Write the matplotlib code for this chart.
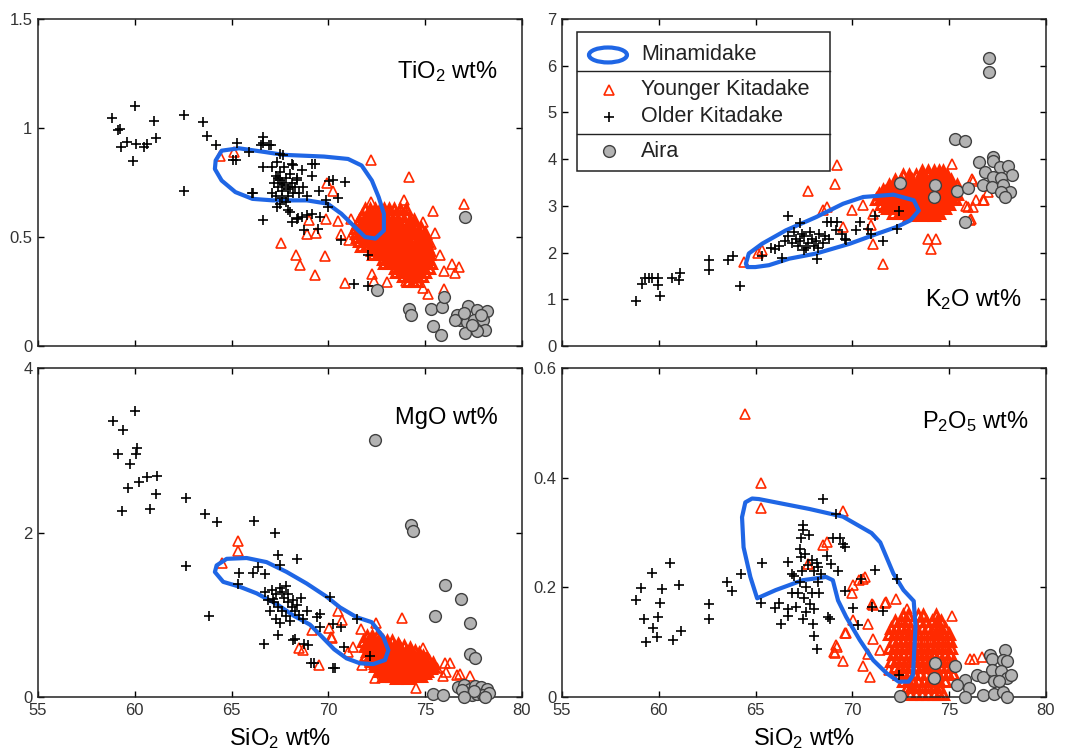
import matplotlib
matplotlib.use('Agg')
import matplotlib.pyplot as plt
from matplotlib.patches import Rectangle, Ellipse
from matplotlib.ticker import FuncFormatter

# ---------------- TiO2 panel ----------------
tio2_mina = [(64.18, 0.851), (64.49, 0.896), (65.38, 0.907), (66.79, 0.889), (67.67, 0.877),
             (69.78, 0.869), (71.02, 0.858), (71.72, 0.828), (72.25, 0.759), (72.6, 0.683),
             (72.87, 0.607), (72.87, 0.53), (72.43, 0.493), (71.9, 0.50), (71.37, 0.546),
             (70.67, 0.607), (69.96, 0.653), (68.9, 0.668), (67.14, 0.668), (66.08, 0.675),
             (65.2, 0.706), (64.49, 0.759), (64.14, 0.812)]
tio2_older = [(60.0, 1.10), (58.8, 1.046), (59.15, 0.99), (59.24, 0.997), (61.0, 1.03), (59.6, 0.937),
              (60.06, 0.927), (59.3, 0.915), (60.65, 0.927), (61.1, 0.954), (59.9, 0.85), (60.5, 0.915),
              (62.56, 1.061), (62.56, 0.71), (63.54, 1.026), (63.75, 0.962), (64.19, 0.922), (65.28, 0.933),
              (65.23, 0.854), (66.6, 0.957), (66.64, 0.93), (67.03, 0.922), (67.64, 0.878), (66.09, 0.701),
              (66.6, 0.579), (68.2, 0.832), (68.65, 0.808), (69.3, 0.835), (69.14, 0.782), (69.5, 0.713),
              (68.88, 0.69), (70.25, 0.762), (68.0, 0.614), (68.45, 0.588), (68.88, 0.599), (69.14, 0.607),
              (69.57, 0.591), (70.0, 0.637), (67.33, 0.637), (67.5, 0.653), (69.48, 0.538), (67.07, 0.82),
              (66.64, 0.82), (67.33, 0.843), (68.7, 0.728), (70.67, 0.488), (72.04, 0.416), (71.34, 0.284),
              (70.05, 0.755), (70.84, 0.751), (70.5, 0.678), (69.87, 0.668), (69.17, 0.835), (68.1, 0.57),
              (68.37, 0.584), (68.64, 0.594), (67.93, 0.622), (67.5, 0.88), (68.1, 0.835), (68.4, 0.77),
              (68.5, 0.70), (66.08, 0.70), (65.9, 0.89), (65.1, 0.854), (66.5, 0.92), (66.93, 0.92),
              (72.07, 0.274), (68.73, 0.53),
              (67.3, 0.78), (67.5, 0.76), (67.7, 0.74), (67.9, 0.72), (68.1, 0.75), (67.6, 0.71),
              (67.4, 0.73), (67.8, 0.77), (68.0, 0.79), (67.2, 0.75), (68.3, 0.73), (67.6, 0.68),
              (67.9, 0.69), (68.2, 0.70), (67.5, 0.80), (67.7, 0.82), (67.1, 0.70), (68.4, 0.76),
              (67.3, 0.69), (67.8, 0.66), (68.0, 0.73), (67.6, 0.75), (67.4, 0.77)]
tio2_younger = [(65.11, 0.888), (64.4, 0.873), (72.2, 0.854), (74.19, 0.777), (77.0, 0.652), (73.93, 0.671),
                (72.2, 0.66), (69.93, 0.747), (70.23, 0.713), (67.53, 0.472), (68.34, 0.416), (68.52, 0.37),
                (69.29, 0.328), (69.82, 0.411), (68.99, 0.579), (68.9, 0.512), (69.34, 0.518), (69.87, 0.584),
                (70.5, 0.573), (70.88, 0.29), (70.67, 0.515), (71.19, 0.584), (71.07, 0.485), (72.25, 0.332),
                (72.34, 0.30), (73.05, 0.294), (74.0, 0.30), (74.9, 0.57), (75.78, 0.416), (76.4, 0.378),
                (76.75, 0.363), (75.96, 0.344), (75.96, 0.26), (74.9, 0.264), (75.16, 0.24), (76.55, 0.335),
                (75.4, 0.62), (75.5, 0.52), (75.3, 0.47)]
# dense Younger Kitadake cloud, read row by row: (TiO2, [SiO2 ...])
tio2_cloud = [(0.63, [71.9, 72.15, 72.4, 72.65, 72.9, 73.15, 73.4, 73.7, 74.0]),
              (0.60, [71.75, 72.0, 72.15, 72.4, 72.65, 72.9, 73.15, 73.45, 73.7, 74.0]),
              (0.58, [71.6, 71.85, 72.1, 72.35, 72.6, 72.85, 73.1, 73.35, 73.6, 73.9, 74.2, 74.45]),
              (0.56, [71.5, 71.75, 72.05, 72.35, 72.6, 72.85, 73.1, 73.35, 73.65, 73.9, 74.15, 74.45]),
              (0.54, [71.4, 71.65, 71.9, 72.1, 72.3, 72.55, 72.8, 73.05, 73.3, 73.55, 73.8, 74.05, 74.3, 74.55, 74.8]),
              (0.52, [71.45, 71.7, 71.95, 72.2, 72.45, 72.7, 72.95, 73.2, 73.5, 73.75, 74.0, 74.25, 74.5, 74.75, 75.0]),
              (0.50, [71.5, 71.75, 72.0, 72.25, 72.5, 72.75, 73.0, 73.25, 73.5, 73.75, 74.0, 74.25, 74.5, 74.75, 75.0]),
              (0.48, [71.6, 71.85, 72.1, 72.35, 72.6, 72.85, 73.1, 73.35, 73.6, 73.85, 74.1, 74.35, 74.6, 74.85, 75.1]),
              (0.46, [71.7, 71.95, 72.2, 72.45, 72.7, 72.95, 73.2, 73.45, 73.7, 73.95, 74.2, 74.45, 74.7, 74.9, 75.1]),
              (0.44, [72.25, 72.5, 72.75, 73.0, 73.25, 73.5, 73.75, 74.0, 74.25, 74.5, 74.75, 75.0, 75.2]),
              (0.42, [72.3, 72.55, 72.8, 73.05, 73.3, 73.55, 73.8, 74.05, 74.3, 74.55, 74.8, 75.0, 75.2]),
              (0.40, [72.85, 73.1, 73.35, 73.6, 73.85, 74.1, 74.35, 74.6, 74.85, 75.1]),
              (0.38, [72.9, 73.15, 73.4, 73.65, 73.9, 74.15, 74.4, 74.65, 74.9, 75.1, 75.3]),
              (0.36, [73.45, 73.7, 73.95, 74.2, 74.45, 74.7, 74.95, 75.2]),
              (0.34, [73.5, 73.75, 74.0, 74.25, 74.5, 74.75, 75.0]),
              (0.32, [73.85, 74.1, 74.35, 74.6, 74.85]),
              (0.30, [74.1, 74.35, 74.6])]
tio2_aira = [(77.06, 0.594), (72.5, 0.259), (74.18, 0.172), (74.26, 0.142), (75.28, 0.168), (75.42, 0.091),
             (75.8, 0.05), (75.85, 0.18), (75.96, 0.223), (77.23, 0.184), (77.66, 0.165), (78.18, 0.161),
             (76.63, 0.142), (76.8, 0.12), (77.14, 0.111), (77.5, 0.12), (78.0, 0.119), (78.09, 0.073),
             (77.7, 0.068), (77.06, 0.058), (77.4, 0.096), (76.56, 0.12), (77.9, 0.14), (77.0, 0.15)]

# ---------------- K2O panel ----------------
k2o_mina = [(64.5, 1.765), (64.65, 1.98), (65.34, 2.19), (66.56, 2.475), (68.13, 2.76), (69.52, 3.045),
            (70.56, 3.19), (72.12, 3.24), (73.17, 3.12), (73.43, 2.90), (73.0, 2.69), (72.3, 2.55),
            (71.26, 2.40), (69.87, 2.19), (68.13, 1.98), (66.74, 1.87), (65.69, 1.73), (64.99, 1.69),
            (64.57, 1.69)]
k2o_older = [(58.82, 0.96), (60.06, 1.067), (59.15, 1.338), (59.29, 1.458), (59.63, 1.458), (59.98, 1.458),
             (59.98, 1.30), (60.67, 1.458), (61.1, 1.565), (61.06, 1.408), (59.5, 1.45), (62.6, 1.85),
             (62.6, 1.637), (63.6, 1.835), (63.82, 1.92), (64.22, 1.28), (65.31, 1.92), (66.66, 2.774),
             (66.0, 2.085), (66.35, 1.89), (67.29, 2.63), (68.15, 1.87), (68.67, 2.652), (69.19, 2.65),
             (69.45, 2.405), (69.62, 2.30), (69.67, 2.26), (70.2, 2.475), (70.39, 2.65), (70.82, 2.51),
             (70.95, 2.40), (71.17, 2.774), (71.6, 2.25), (72.39, 2.90), (72.3, 2.5), (69.16, 2.475),
             (68.9, 2.66),
             (66.9, 2.2), (67.1, 2.3), (67.3, 2.25), (67.5, 2.35), (67.7, 2.2), (67.9, 2.3), (68.1, 2.25),
             (68.3, 2.4), (68.5, 2.2), (67.2, 2.15), (67.6, 2.1), (68.0, 2.15), (67.4, 2.4), (67.8, 2.45),
             (68.2, 2.1), (66.7, 2.35), (68.6, 2.35), (67.0, 2.45), (68.8, 2.3), (67.5, 2.05), (66.5, 2.25),
             (66.2, 2.15), (65.8, 2.1)]
k2o_younger = [(69.19, 3.884), (69.1, 3.47), (67.72, 3.31), (68.46, 2.917), (68.67, 2.97), (64.4, 1.80),
               (65.31, 2.06), (65.1, 2.0), (71.6, 1.75), (73.92, 2.30), (74.32, 2.28), (74.06, 2.085),
               (75.13, 3.9), (76.16, 3.58), (76.76, 3.13), (76.25, 2.97), (75.87, 3.0), (76.07, 2.69),
               (70.0, 2.917), (70.57, 3.01), (71.08, 2.83), (71.05, 2.19), (69.53, 2.55), (70.95, 2.6),
               (76.22, 3.54), (76.39, 3.12), (75.95, 2.97), (76.8, 3.12), (77.0, 3.3), (76.13, 2.72)]
k2o_cloud = [(3.75, [73.6, 73.9, 74.2, 74.5, 74.7]),
             (3.65, [72.6, 72.9, 73.3, 73.6, 73.9, 74.2, 74.4, 74.7, 74.9]),
             (3.60, [72.9, 73.6, 74.2, 74.7]),
             (3.55, [72.2, 72.5, 72.8, 73.1, 73.4, 73.7, 74.0, 74.3, 74.6, 74.85, 75.1]),
             (3.50, [72.5, 73.1, 73.7, 74.3, 74.9]),
             (3.45, [71.9, 72.2, 72.5, 72.8, 73.1, 73.4, 73.7, 74.0, 74.3, 74.6, 74.9, 75.15, 75.4]),
             (3.40, [71.9, 72.5, 73.1, 73.7, 74.3, 74.9]),
             (3.35, [71.6, 71.9, 72.2, 72.5, 72.8, 73.1, 73.4, 73.7, 74.0, 74.3, 74.6, 74.9, 75.2]),
             (3.30, [71.7, 72.2, 72.8, 73.4, 74.0, 74.6, 75.2]),
             (3.25, [71.4, 71.65, 71.9, 72.2, 72.5, 72.8, 73.1, 73.4, 73.7, 74.0, 74.3, 74.6, 74.9, 75.15, 75.4]),
             (3.20, [71.6, 72.2, 72.8, 73.4, 74.0, 74.6, 75.1]),
             (3.15, [71.2, 71.45, 71.7, 72.0, 72.3, 72.6, 72.9, 73.2, 73.5, 73.8, 74.1, 74.4, 74.7, 75.0, 75.3]),
             (3.10, [71.9, 72.4, 73.0, 73.6, 74.2, 74.8]),
             (3.05, [71.5, 71.75, 72.0, 72.3, 72.6, 72.9, 73.2, 73.5, 73.8, 74.1, 74.4, 74.7, 75.0]),
             (3.00, [71.7, 72.3, 72.9, 73.5, 74.1, 74.7]),
             (2.95, [71.8, 72.1, 72.4, 72.7, 73.0, 73.3, 73.6, 73.9, 74.2, 74.5, 74.8]),
             (2.90, [72.5, 73.1, 73.7, 74.3]),
             (2.85, [72.1, 72.4, 72.7, 73.0, 73.3, 73.6, 73.9, 74.2, 74.5]),
             (2.80, [72.9, 73.6, 74.2])]
k2o_aira = [(77.07, 6.16), (77.07, 5.86), (75.3, 4.43), (75.82, 4.38), (72.46, 3.485), (74.27, 3.457),
            (74.22, 3.20), (75.42, 3.31), (75.99, 3.38), (75.82, 2.65), (76.55, 3.93), (77.28, 4.04),
            (77.25, 3.96), (76.85, 3.72), (77.62, 3.83), (78.05, 3.86), (78.23, 3.65), (77.28, 3.61),
            (77.7, 3.6), (76.76, 3.44), (77.2, 3.40), (77.8, 3.457), (78.14, 3.29), (77.7, 3.29), (77.9, 3.19)]

# ---------------- MgO panel ----------------
mgo_mina = [(64.23, 1.60), (64.75, 1.68), (65.78, 1.69), (66.81, 1.64), (67.85, 1.52), (68.88, 1.38),
            (69.91, 1.22), (70.6, 1.09), (71.46, 0.97), (72.24, 0.91), (72.84, 0.73), (73.1, 0.57),
            (72.93, 0.45), (72.32, 0.40), (71.63, 0.41), (70.94, 0.47), (70.3, 0.58), (69.6, 0.75),
            (69.05, 0.88), (68.2, 0.99), (67.33, 1.13), (66.3, 1.26), (65.43, 1.34), (64.57, 1.40),
            (64.14, 1.52)]
mgo_older = [(60.01, 3.48), (58.86, 3.36), (59.37, 3.245), (60.13, 3.03), (60.06, 2.96), (59.15, 2.96),
             (59.75, 2.83), (60.23, 2.62), (60.65, 2.67), (61.16, 2.69), (59.66, 2.54), (61.1, 2.47),
             (59.32, 2.26), (60.79, 2.29), (62.64, 2.42), (63.63, 2.22), (64.26, 2.13), (66.17, 2.14),
             (67.24, 1.99), (67.41, 1.73), (68.36, 1.68), (62.64, 1.59), (63.83, 0.98), (65.4, 1.51),
             (66.09, 1.51), (65.35, 1.38), (66.73, 1.50), (66.38, 1.58), (67.5, 1.60), (66.73, 1.276),
             (67.12, 1.196), (66.67, 0.65), (67.41, 0.75), (68.27, 0.71), (68.96, 0.63), (69.26, 0.41),
             (70.34, 0.35), (70.08, 1.216), (69.57, 1.006), (69.57, 0.85), (69.43, 0.973), (70.23, 0.893),
             (70.67, 0.852), (71.46, 0.954), (70.8, 0.61), (72.16, 0.497), (70.23, 0.348), (69.08, 0.416),
             (68.2, 0.69), (68.75, 0.64),
             (67.1, 1.30), (67.3, 1.25), (67.5, 1.32), (67.7, 1.20), (67.9, 1.15), (68.1, 1.10), (68.3, 1.05),
             (68.5, 1.00), (67.4, 1.10), (67.6, 1.05), (67.8, 0.98), (68.0, 0.93), (67.2, 1.15), (67.6, 1.28),
             (67.9, 1.25), (68.2, 1.18), (68.4, 1.12), (68.7, 0.95), (67.5, 0.90), (67.3, 0.95), (67.8, 1.35),
             (68.6, 1.20), (68.9, 1.05), (67.0, 1.05), (66.9, 1.18)]
mgo_younger = [(65.31, 1.895), (65.35, 1.78), (64.53, 1.63), (68.5, 0.59), (68.7, 0.57), (69.53, 0.39),
               (69.14, 0.82), (70.05, 0.845), (70.12, 0.73), (70.5, 1.05), (73.78, 0.966), (72.46, 0.90),
               (71.68, 0.83), (70.69, 0.94), (70.17, 0.72), (71.72, 0.39), (74.52, 0.105), (77.31, 0.25),
               (76.8, 0.28), (76.28, 0.416), (76.1, 0.3), (71.29, 0.61), (74.9, 0.60), (76.04, 0.41),
               (76.66, 0.27), (72.43, 0.227), (75.6, 0.35), (75.9, 0.25), (71.0, 0.55)]
mgo_cloud = [(0.74, [72.0, 72.25, 72.5]),
             (0.71, [72.2, 72.7]),
             (0.68, [71.8, 72.05, 72.3, 72.55, 72.8, 73.05, 73.3]),
             (0.65, [72.0, 72.5, 73.0, 73.6]),
             (0.62, [71.9, 72.15, 72.4, 72.65, 72.9, 73.15, 73.4, 73.65, 73.9]),
             (0.59, [72.1, 72.6, 73.2, 73.7, 74.2]),
             (0.56, [72.0, 72.25, 72.5, 72.75, 73.0, 73.25, 73.5, 73.75, 74.0, 74.25, 74.5]),
             (0.53, [72.2, 72.7, 73.2, 73.7, 74.2, 74.7]),
             (0.50, [71.9, 72.15, 72.4, 72.65, 72.9, 73.15, 73.4, 73.65, 73.9, 74.15, 74.4, 74.65, 74.9]),
             (0.47, [72.1, 72.6, 73.1, 73.6, 74.1, 74.6, 75.1]),
             (0.44, [72.2, 72.45, 72.7, 72.95, 73.2, 73.45, 73.7, 73.95, 74.2, 74.45, 74.7, 74.95, 75.2]),
             (0.41, [72.4, 72.9, 73.4, 73.9, 74.4, 74.9, 75.4]),
             (0.38, [72.4, 72.65, 72.9, 73.15, 73.4, 73.65, 73.9, 74.15, 74.4, 74.65, 74.9, 75.15, 75.4]),
             (0.35, [72.8, 73.3, 73.8, 74.3, 74.8, 75.3]),
             (0.32, [72.6, 72.85, 73.1, 73.35, 73.6, 73.85, 74.1, 74.35, 74.6, 74.85, 75.1]),
             (0.29, [73.0, 73.5, 74.0, 74.5, 75.0]),
             (0.26, [72.8, 73.05, 73.3, 73.55, 73.8, 74.05, 74.3, 74.55, 74.8]),
             (0.23, [73.5, 74.1])]
mgo_aira = [(72.39, 3.12), (74.27, 2.097), (74.35, 2.016), (76.02, 1.358), (76.85, 1.196), (75.5, 0.985),
            (77.31, 0.905), (77.31, 0.517), (77.6, 0.469), (75.39, 0.036), (75.9, 0.024),
            (76.7, 0.12), (77.0, 0.14), (77.3, 0.10), (77.6, 0.13), (77.9, 0.12), (78.2, 0.10), (77.1, 0.05),
            (77.4, 0.02), (77.7, 0.04), (78.0, 0.03), (78.3, 0.05), (76.9, 0.08), (77.5, 0.07), (78.1, 0.0),
            (77.0, 0.0)]

# ---------------- P2O5 panel ----------------
p2o5_mina = [(64.82, 0.362), (65.17, 0.361), (67.77, 0.343), (69.51, 0.329), (70.99, 0.299), (71.44, 0.282),
             (72.12, 0.225), (72.64, 0.195), (73.17, 0.175), (73.26, 0.128), (73.13, 0.04), (72.91, 0.028),
             (72.39, 0.028), (71.78, 0.043), (71.08, 0.067), (70.38, 0.104), (69.68, 0.146), (69.26, 0.176),
             (68.99, 0.213), (68.64, 0.219), (67.43, 0.213), (66.04, 0.195), (65.08, 0.18), (64.73, 0.219),
             (64.38, 0.273), (64.3, 0.328), (64.47, 0.355)]
p2o5_older = [(60.58, 0.244), (59.63, 0.226), (59.08, 0.199), (60.15, 0.197), (61.04, 0.205), (58.82, 0.176),
              (60.06, 0.171), (59.24, 0.142), (59.97, 0.145), (59.72, 0.125), (61.13, 0.12), (59.34, 0.10),
              (59.92, 0.11), (60.72, 0.104), (62.61, 0.169), (62.61, 0.142), (63.54, 0.21), (63.8, 0.193),
              (64.23, 0.224), (65.31, 0.244), (65.26, 0.172), (66.0, 0.163), (66.23, 0.171), (66.3, 0.133),
              (66.69, 0.161), (66.69, 0.147), (67.47, 0.143), (67.98, 0.133), (68.02, 0.111), (68.19, 0.088),
              (68.47, 0.362), (68.72, 0.146),
              (67.47, 0.313), (67.47, 0.305), (67.78, 0.295), (67.29, 0.27), (67.37, 0.255), (68.15, 0.244),
              (68.24, 0.237), (68.67, 0.258), (69.0, 0.29), (69.35, 0.29), (69.62, 0.273), (68.92, 0.242),
              (69.27, 0.23), (66.69, 0.247), (66.87, 0.225), (67.0, 0.22), (67.3, 0.21), (67.6, 0.20),
              (67.9, 0.19), (68.2, 0.21), (67.2, 0.19), (67.5, 0.18), (67.8, 0.17), (68.0, 0.16), (67.4, 0.23),
              (67.7, 0.24), (68.0, 0.23), (68.3, 0.19), (66.9, 0.19), (67.1, 0.165), (67.6, 0.155),
              (67.35, 0.29), (67.55, 0.26), (67.9, 0.25), (68.4, 0.225),
              (69.13, 0.333), (69.51, 0.279), (69.6, 0.193), (70.04, 0.163), (70.3, 0.131), (70.47, 0.216),
              (71.17, 0.231), (71.0, 0.164), (72.3, 0.216), (71.6, 0.157), (72.39, 0.04), (68.82, 0.143)]
p2o5_younger = [(64.45, 0.516), (65.26, 0.39), (65.26, 0.345), (69.49, 0.34), (68.47, 0.278), (68.67, 0.282),
                (67.7, 0.243), (69.19, 0.0915), (69.1, 0.08), (69.49, 0.066), (69.67, 0.116), (71.0, 0.17),
                (71.68, 0.171), (72.25, 0.178), (70.53, 0.216), (70.36, 0.213), (70.05, 0.205), (70.0, 0.19),
                (70.05, 0.14), (70.82, 0.134), (71.08, 0.105), (69.15, 0.0945), (69.05, 0.082), (70.56, 0.056),
                (70.9, 0.037), (71.9, 0.049), (71.42, 0.085), (75.13, 0.147), (76.07, 0.069), (76.28, 0.069),
                (76.68, 0.073), (69.6, 0.116), (70.82, 0.079), (70.65, 0.219), (71.08, 0.167), (71.74, 0.173),
                (72.82, 0.161), (73.69, 0.146), (74.39, 0.128)]
p2o5_cloud = [(0.150, [72.6, 72.85, 73.4, 73.65, 74.3]),
              (0.138, [72.2, 72.5, 72.8, 73.15, 73.5, 73.8, 74.1, 74.35, 74.6]),
              (0.126, [72.0, 72.25, 72.5, 72.75, 73.0, 73.3, 73.6, 73.9, 74.2, 74.5, 74.8]),
              (0.114, [71.9, 72.15, 72.4, 72.65, 72.9, 73.15, 73.4, 73.7, 74.0, 74.25, 74.5, 74.75, 75.0]),
              (0.102, [72.1, 72.35, 72.6, 72.85, 73.1, 73.4, 73.7, 74.0, 74.3, 74.55, 74.8, 75.05]),
              (0.090, [71.9, 72.15, 72.4, 72.65, 72.9, 73.15, 73.4, 73.7, 74.0, 74.25, 74.5, 74.8, 75.1]),
              (0.078, [72.1, 72.35, 72.6, 72.9, 73.2, 73.45, 73.7, 73.95, 74.2, 74.5, 74.8, 75.05]),
              (0.066, [72.0, 72.25, 72.5, 72.75, 73.0, 73.25, 73.5, 73.75, 74.0, 74.3, 74.6, 74.9, 75.2]),
              (0.054, [72.2, 72.45, 72.7, 73.0, 73.3, 73.55, 73.8, 74.05, 74.3, 74.6, 74.9]),
              (0.042, [72.4, 72.65, 72.9, 73.2, 73.5, 73.8, 74.1, 74.4, 74.7, 74.95, 75.2]),
              (0.030, [72.6, 72.85, 73.1, 73.4, 73.7, 73.95, 74.2, 74.5, 74.8]),
              (0.018, [72.8, 73.05, 73.3, 73.6, 73.9, 74.2, 74.5]),
              (0.006, [73.0, 73.3, 73.6, 73.9, 74.2, 74.45, 74.7])]
p2o5_aira = [(74.27, 0.062), (74.22, 0.034), (75.3, 0.056), (72.46, 0.002), (75.82, 0.031), (75.39, 0.022),
             (76.0, 0.016), (75.82, 0.0), (76.45, 0.04), (76.76, 0.037), (77.1, 0.076), (77.2, 0.07),
             (77.88, 0.085), (77.76, 0.067), (78.0, 0.065), (77.19, 0.049), (77.7, 0.047), (77.97, 0.034),
             (77.3, 0.03), (76.76, 0.004), (77.3, 0.005), (77.8, 0.01), (78.0, 0.0), (77.6, 0.03), (78.2, 0.04)]

BLUE = '#1f66e5'
RED = '#ff2a00'

plt.rcParams['font.family'] = ['Liberation Sans', 'DejaVu Sans']


def unzip(pairs):
    return [p[0] for p in pairs], [p[1] for p in pairs]


def rows_to_xy(rows):
    xs, ys = [], []
    for y, row in rows:
        for x in row:
            xs.append(x)
            ys.append(y)
    return xs, ys


def draw_panel(ax, mina, younger, cloud, older, aira, ylim, yticks, label, label_pos, bottom):
    # the packed cloud: heavy edges so the overlapping triangles read as one red mass
    cx, cy = rows_to_xy(cloud)
    ax.plot(cx, cy, ls='none', marker='^', ms=7.5, mfc='none', mec=RED, mew=2.2,
            clip_on=False, zorder=2)
    yx, yy = unzip(younger)
    ax.plot(yx, yy, ls='none', marker='^', ms=7.5, mfc='none', mec=RED, mew=1.2,
            clip_on=False, zorder=2)
    mx, my = unzip(mina)
    ax.fill(mx, my, fill=False, ec=BLUE, lw=3.0, joinstyle='round', zorder=3)
    ox, oy = unzip(older)
    ax.plot(ox, oy, ls='none', marker='+', ms=7, color='black', mew=1.2, clip_on=False, zorder=4)
    ax_, ay = unzip(aira)
    ax.plot(ax_, ay, ls='none', marker='o', ms=8.5, mfc='#b3b3b3', mec='#404040', mew=1.0,
            clip_on=False, zorder=5)

    ax.set_xlim(55, 80)
    ax.set_ylim(*ylim)
    ax.set_xticks([55, 60, 65, 70, 75, 80])
    ax.set_yticks(yticks)
    ax.yaxis.set_major_formatter(FuncFormatter(lambda v, p: f'{v:g}'))
    ax.tick_params(direction='in', top=True, right=True, length=4, width=1,
                   labelsize=12, labelcolor='#333333', pad=4)
    if not bottom:
        ax.tick_params(labelbottom=False)
    else:
        ax.set_xlabel(r'SiO$\mathregular{_2}$ wt%', fontsize=17, labelpad=6)
    for s in ax.spines.values():
        s.set_linewidth(1.1)
        s.set_color('#222222')
    ax.text(label_pos[0], label_pos[1], label, transform=ax.transAxes, ha='right', va='center',
            fontsize=17)


def draw_legend(ax):
    t = ax.transAxes
    ax.add_patch(Rectangle((0.031, 0.534), 0.523, 0.427, transform=t, fc='white', ec='#222222',
                           lw=1.1, zorder=10))
    for yy in (0.841, 0.648):
        ax.plot([0.031, 0.554], [yy, yy], transform=t, color='#222222', lw=1.0, zorder=11)
    ax.add_patch(Ellipse((0.095, 0.890), 0.0785, 0.0457, transform=t, fill=False, ec=BLUE,
                         lw=3.0, zorder=11))
    ax.plot([0.097], [0.783], transform=t, marker='^', ms=7.5, mfc='none', mec=RED, mew=1.2, zorder=11)
    ax.plot([0.097], [0.701], transform=t, marker='+', ms=7, color='black', mew=1.2, zorder=11)
    ax.plot([0.097], [0.595], transform=t, marker='o', ms=8.5, mfc='#b3b3b3', mec='#404040',
            mew=1.0, zorder=11)
    for yy, txt in ((0.892, 'Minamidake'), (0.783, 'Younger Kitadake'),
                    (0.701, 'Older Kitadake'), (0.595, 'Aira')):
        ax.text(0.163, yy, txt, transform=t, ha='left', va='center', fontsize=15.5,
                color='#222222', zorder=12)


fig = plt.figure(figsize=(10.66, 7.54), dpi=100)
ax_tl = fig.add_axes([0.0356, 0.5411, 0.4540, 0.4337])
ax_tr = fig.add_axes([0.5272, 0.5411, 0.4540, 0.4337])
ax_bl = fig.add_axes([0.0356, 0.0756, 0.4540, 0.4363])
ax_br = fig.add_axes([0.5272, 0.0756, 0.4540, 0.4363])

draw_panel(ax_tl, tio2_mina, tio2_younger, tio2_cloud, tio2_older, tio2_aira, (0, 1.5),
           [0, 0.5, 1, 1.5], r'TiO$\mathregular{_2}$ wt%', (0.95, 0.839), False)
draw_panel(ax_tr, k2o_mina, k2o_younger, k2o_cloud, k2o_older, k2o_aira, (0, 7),
           [0, 1, 2, 3, 4, 5, 6, 7], r'K$\mathregular{_2}$O wt%', (0.95, 0.141), False)
draw_panel(ax_bl, mgo_mina, mgo_younger, mgo_cloud, mgo_older, mgo_aira, (0, 4),
           [0, 2, 4], 'MgO wt%', (0.95, 0.847), True)
draw_panel(ax_br, p2o5_mina, p2o5_younger, p2o5_cloud, p2o5_older, p2o5_aira, (0, 0.6),
           [0, 0.2, 0.4, 0.6], r'P$\mathregular{_2}$O$\mathregular{_5}$ wt%', (0.965, 0.837), True)
draw_legend(ax_tr)

fig.savefig('out.png', dpi=100)
